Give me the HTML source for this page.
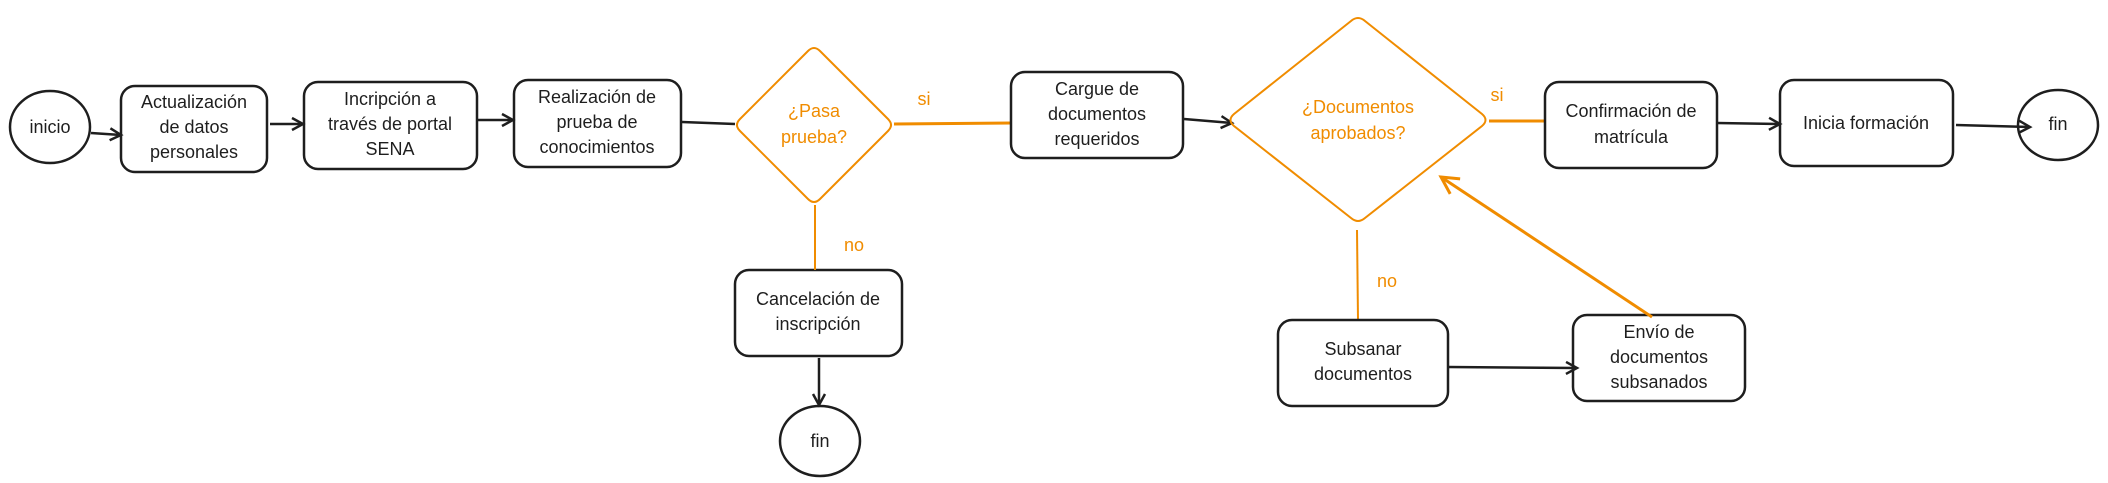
<!DOCTYPE html>
<html><head><meta charset="utf-8"><style>
html,body{margin:0;padding:0;background:#fff;}
svg{display:block}
text{font-family:"Liberation Sans",sans-serif;font-size:18px;text-anchor:middle;dominant-baseline:middle;fill:#1e1e1e}
.o{fill:#f08c00}
.b{fill:none;stroke:#1e1e1e;stroke-width:2.5}
.ol{fill:none;stroke:#f08c00;stroke-width:2}
.ot{fill:none;stroke:#f08c00;stroke-width:3}
</style></head><body>
<svg width="2108" height="483" viewBox="0 0 2108 483">
<defs>
<marker id="ab" markerWidth="16" markerHeight="16" refX="13" refY="8" orient="auto" markerUnits="userSpaceOnUse"><path d="M2,2 L13,8 L2,14" fill="none" stroke="#1e1e1e" stroke-width="2.5"/></marker>
<marker id="ao" markerWidth="22" markerHeight="22" refX="19" refY="11" orient="auto" markerUnits="userSpaceOnUse"><path d="M2,2 L19,11 L2,20" fill="none" stroke="#f08c00" stroke-width="3"/></marker>
</defs>
<ellipse class="b" cx="50" cy="127" rx="40" ry="36"/>
<text x="50" y="128">inicio</text>
<rect class="b" x="121" y="86" width="146" height="86" rx="14"/>
<text x="194" y="103">Actualización</text><text x="194" y="128">de datos</text><text x="194" y="153">personales</text>
<rect class="b" x="304" y="82" width="173" height="87" rx="14"/>
<text x="390" y="100">Incripción a</text><text x="390" y="125">través de portal</text><text x="390" y="150">SENA</text>
<rect class="b" x="514" y="80" width="167" height="87" rx="14"/>
<text x="597" y="98">Realización de</text><text x="597" y="123">prueba de</text><text x="597" y="148">conocimientos</text>
<path class="ol" d="M808,51 Q814,45 820,51 L888,119 Q894,125 888,131 L820,199 Q814,205 808,199 L740,131 Q734,125 740,119 Z"/>
<text class="o" x="814" y="112">¿Pasa</text><text class="o" x="814" y="138">prueba?</text>
<rect class="b" x="735" y="270" width="167" height="86" rx="14"/>
<text x="818" y="300">Cancelación de</text><text x="818" y="325">inscripción</text>
<ellipse class="b" cx="820" cy="441" rx="40" ry="35"/>
<text x="820" y="442">fin</text>
<line class="b" x1="91" y1="133" x2="121" y2="135" marker-end="url(#ab)"/>
<line class="b" x1="270" y1="124" x2="303" y2="124" marker-end="url(#ab)"/>
<line class="b" x1="478" y1="120" x2="513" y2="120" marker-end="url(#ab)"/>
<line class="b" x1="682" y1="122" x2="735" y2="124"/>
<line class="ot" x1="894" y1="124" x2="1012" y2="123"/>
<text class="o" x="924" y="100">si</text>
<line class="ol" x1="815" y1="205" x2="815" y2="270"/>
<text class="o" x="854" y="246">no</text>
<line class="b" x1="819" y1="358" x2="819" y2="405" marker-end="url(#ab)"/>
<rect class="b" x="1011" y="72" width="172" height="86" rx="14"/>
<text x="1097" y="90">Cargue de</text><text x="1097" y="115">documentos</text><text x="1097" y="140">requeridos</text>
<line class="b" x1="1184" y1="119" x2="1232" y2="123" marker-end="url(#ab)"/>
<path class="ol" d="M1351,21 Q1358,15 1365,21 L1482,114 Q1489,120 1482,126 L1365,218 Q1358,224 1351,218 L1234,126 Q1227,120 1234,114 Z"/>
<text class="o" x="1358" y="108">¿Documentos</text><text class="o" x="1358" y="134">aprobados?</text>
<line class="ot" x1="1489" y1="121" x2="1545" y2="121"/>
<text class="o" x="1497" y="96">si</text>
<rect class="b" x="1545" y="82" width="172" height="86" rx="14"/>
<text x="1631" y="112">Confirmación de</text><text x="1631" y="138">matrícula</text>
<rect class="b" x="1780" y="80" width="173" height="86" rx="14"/>
<text x="1866" y="124">Inicia formación</text>
<ellipse class="b" cx="2058" cy="125" rx="40" ry="35"/>
<text x="2058" y="125">fin</text>
<line class="b" x1="1717" y1="123" x2="1780" y2="124" marker-end="url(#ab)"/>
<line class="b" x1="1956" y1="125" x2="2030" y2="127" marker-end="url(#ab)"/>
<line class="ol" x1="1357" y1="230" x2="1358" y2="320"/>
<text class="o" x="1387" y="282">no</text>
<rect class="b" x="1278" y="320" width="170" height="86" rx="14"/>
<text x="1363" y="350">Subsanar</text><text x="1363" y="375">documentos</text>
<rect class="b" x="1573" y="315" width="172" height="86" rx="14"/>
<text x="1659" y="333">Envío de</text><text x="1659" y="358">documentos</text><text x="1659" y="383">subsanados</text>
<line class="b" x1="1448" y1="367" x2="1577" y2="368" marker-end="url(#ab)"/>
<line class="ot" x1="1652" y1="317" x2="1441" y2="177" marker-end="url(#ao)"/>
</svg>
</body></html>
